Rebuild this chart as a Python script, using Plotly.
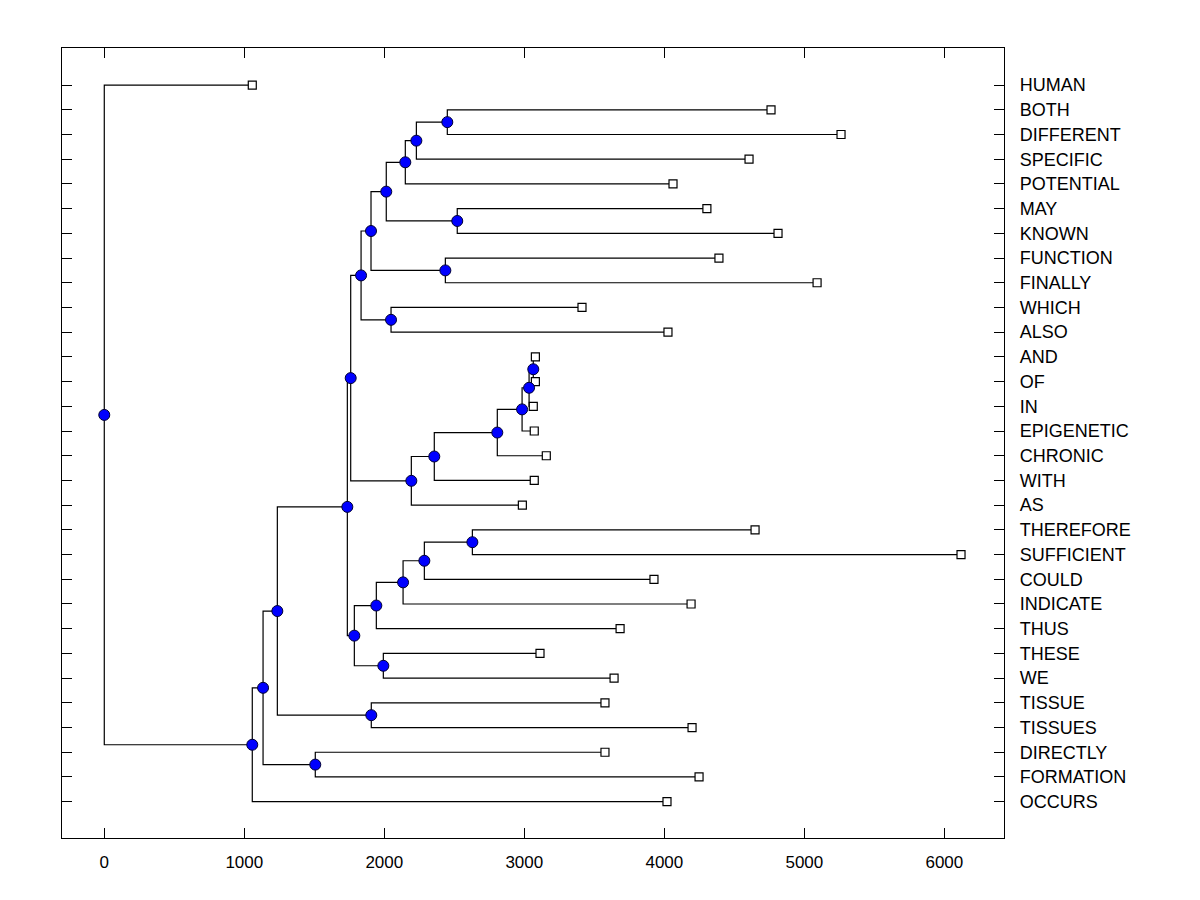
import plotly.graph_objects as go

# ---- data ----
leaf_labels = ["HUMAN", "BOTH", "DIFFERENT", "SPECIFIC", "POTENTIAL", "MAY", "KNOWN",
               "FUNCTION", "FINALLY", "WHICH", "ALSO", "AND", "OF", "IN", "EPIGENETIC",
               "CHRONIC", "WITH", "AS", "THEREFORE", "SUFFICIENT", "COULD", "INDICATE",
               "THUS", "THESE", "WE", "TISSUE", "TISSUES", "DIRECTLY", "FORMATION", "OCCURS"]
leaf_values = [1057, 4762, 5262, 4605, 4062, 4304, 4812, 4390, 5091, 3412, 4026,
               3079, 3079, 3064, 3071, 3157, 3071, 2986, 4648, 6119, 3926, 4191,
               3684, 3112, 3641, 3576, 4198, 3576, 4248, 4019]

# merges: node ids continue after the 30 leaves (30, 31, ...)
merge_children = [
    (1, 2),    # 30 A
    (30, 3),   # 31 B
    (31, 4),   # 32 C
    (5, 6),    # 33 D
    (32, 33),  # 34 E
    (7, 8),    # 35 F
    (34, 35),  # 36 G
    (9, 10),   # 37 H
    (36, 37),  # 38 I
    (11, 12),  # 39 J
    (39, 13),  # 40 K
    (40, 14),  # 41 L
    (41, 15),  # 42 M
    (42, 16),  # 43 N
    (43, 17),  # 44 O
    (38, 44),  # 45 P
    (18, 19),  # 46 Q
    (46, 20),  # 47 R
    (47, 21),  # 48 S
    (48, 22),  # 49 T
    (23, 24),  # 50 U
    (49, 50),  # 51 V
    (45, 51),  # 52 W
    (25, 26),  # 53 X
    (52, 53),  # 54 Y
    (27, 28),  # 55 Z
    (54, 55),  # 56 AA
    (56, 29),  # 57 AB
    (0, 57),   # 58 root
]
merge_values = [2450, 2229, 2150, 2521, 2014, 2436, 1905, 2048, 1834,
                3064, 3034, 2984, 2807, 2357, 2193, 1760,
                2629, 2286, 2134, 1943, 1993, 1786, 1736, 1907, 1236,
                1507, 1134, 1057, 0]

# ---- layout computation ----
n = len(leaf_labels)
xs = list(leaf_values)
ys = list(range(n))
line_x, line_y = [], []
for (a, b), v in zip(merge_children, merge_values):
    ya, yb = ys[a], ys[b]
    line_x += [xs[a], v, v, xs[b], None]
    line_y += [ya, ya, yb, yb, None]
    xs.append(v)
    ys.append((ya + yb) / 2)

fig = go.Figure()
fig.add_trace(go.Scatter(x=line_x, y=line_y, mode="lines",
                         line=dict(color="black", width=1.2), hoverinfo="skip"))
fig.add_trace(go.Scatter(x=xs[:n], y=ys[:n], mode="markers",
                         marker=dict(symbol="square", size=8, color="white",
                                     line=dict(color="black", width=1.2))))
fig.add_trace(go.Scatter(x=xs[n:], y=ys[n:], mode="markers",
                         marker=dict(symbol="circle", size=11, color="#0000FF",
                                     line=dict(color="#000033", width=1))))

font = "Liberation Sans, Arial, sans-serif"
fig.update_layout(
    width=1200, height=900,
    margin=dict(l=54, r=204, t=40, b=70),
    paper_bgcolor="white", plot_bgcolor="white",
    showlegend=False,
    font=dict(family=font, color="black"),
    xaxis=dict(range=[-302, 6426], tickvals=[0, 1000, 2000, 3000, 4000, 5000, 6000],
               ticks="inside", ticklen=10, tickwidth=1, tickcolor="black",
               showline=True, linecolor="black", linewidth=1.2, mirror="ticks",
               showgrid=False, zeroline=False, tickfont=dict(size=17, family=font),
               ticklabelstandoff=8),
    yaxis=dict(range=[30.47, -1.5], side="right",
               tickvals=list(range(n)), ticktext=leaf_labels,
               ticks="inside", ticklen=10, tickwidth=1, tickcolor="black",
               showline=True, linecolor="black", linewidth=1.2, mirror="ticks",
               showgrid=False, zeroline=False, tickfont=dict(size=18, family=font),
               ticklabelstandoff=11),
)
fig.write_html("out.html")
